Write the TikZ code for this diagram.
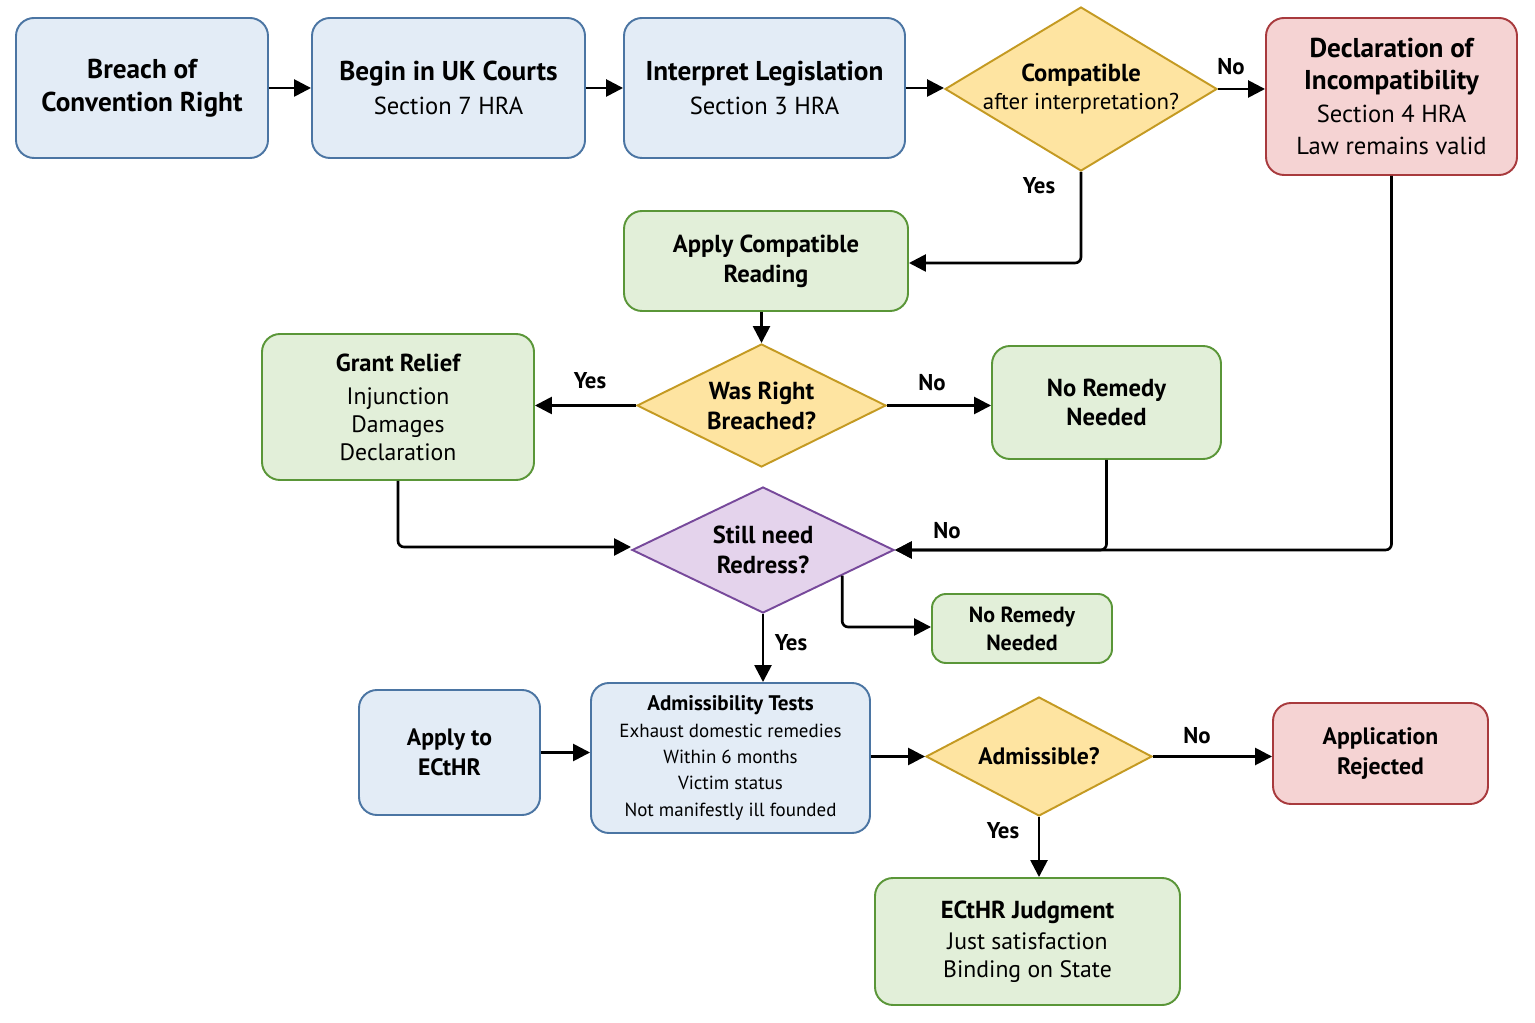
\documentclass[tikz,border=0pt]{standalone}
\usepackage{fontspec}
\setmainfont{PT Sans}
\usetikzlibrary{shapes.geometric,arrows.meta,calc}
\definecolor{bfill}{HTML}{E3ECF6}\definecolor{bdraw}{HTML}{4B75A3}
\definecolor{gfill}{HTML}{E2EFD9}\definecolor{gdraw}{HTML}{5A9638}
\definecolor{rfill}{HTML}{F5D3D3}\definecolor{rdraw}{HTML}{A83A3D}
\definecolor{yfill}{HTML}{FEE4A1}\definecolor{ydraw}{HTML}{C49A22}
\definecolor{pfill}{HTML}{E4D3EC}\definecolor{pdraw}{HTML}{77499B}
% font size macros (size only; baselineskip set by the node font)
\newcommand{\fA}{\fontsize{15.5}{18}\selectfont}
\newcommand{\fB}{\fontsize{14}{17}\selectfont}
\newcommand{\fC}{\fontsize{13.5}{16}\selectfont}
\newcommand{\fD}{\fontsize{10.8}{15}\selectfont}
\newcommand{\skipto}[1]{\fontsize{10}{#1}\selectfont}
\tikzset{
  box/.style={rectangle, rounded corners=0.36cm, line width=1.1pt, align=center, inner sep=0pt},
  bluebox/.style={box, fill=bfill, draw=bdraw},
  greenbox/.style={box, fill=gfill, draw=gdraw},
  redbox/.style={box, fill=rfill, draw=rdraw},
  dia/.style={diamond, line width=1.1pt, align=center, inner sep=0pt},
  ydia/.style={dia, fill=yfill, draw=ydraw},
  pdia/.style={dia, fill=pfill, draw=pdraw},
  arr/.style={-{Triangle[length=0.34cm,width=0.34cm]}, line width=1.5pt, rounded corners=0.12cm},
  lbl/.style={font=\fontsize{13}{15}\selectfont\bfseries, inner sep=0pt}
}
\begin{document}
\begin{tikzpicture}[x=0.02cm,y=-0.02cm]
\useasboundingbox[fill=white] (0,0) rectangle (1535,1023);
% top row
\node[bluebox, minimum width=252*0.02cm, minimum height=140*0.02cm, font=\fontsize{15.5}{18.7}\selectfont\bfseries] (breach) at (142,88) {Breach of\\Convention Right};
\node[bluebox, minimum width=273*0.02cm, minimum height=140*0.02cm, font=\skipto{19.3}] (begin) at (448.5,88) {\fA\bfseries Begin in UK Courts\\\fB Section 7 HRA};
\node[bluebox, minimum width=281*0.02cm, minimum height=140*0.02cm, font=\skipto{19.3}] (interp) at (764.5,88) {\fA\bfseries Interpret Legislation\\\fB Section 3 HRA};
\node[ydia, aspect=1.66, inner sep=-6pt, minimum width=272*0.02cm, minimum height=164*0.02cm, font=\skipto{15.9}] (compat) at (1081,89) {\fB\bfseries Compatible\\\fontsize{13}{16}\selectfont after interpretation?};
\node[redbox, minimum width=251*0.02cm, minimum height=157*0.02cm, font=\skipto{18.5}] (decl) at (1391.5,96.5) {\fA\bfseries Declaration of\\\fA\bfseries Incompatibility\\\fB Section 4 HRA\\\fB Law remains valid};
% second row
\node[greenbox, minimum width=284*0.02cm, minimum height=100*0.02cm, font=\fontsize{14}{17}\selectfont\bfseries] (apply) at (766,261) {Apply Compatible\\Reading};
\node[ydia, aspect=2.02, minimum width=249*0.02cm, minimum height=123*0.02cm, font=\fontsize{14}{17}\selectfont\bfseries] (was) at (761.5,405.5) {Was Right\\Breached?};
\node[greenbox, minimum width=272*0.02cm, minimum height=146*0.02cm, font=\skipto{15.9}] (grant) at (398,407) {\fB\bfseries Grant Relief\\[3pt]\fC Injunction\\\fC Damages\\\fC Declaration};
\node[greenbox, minimum width=229*0.02cm, minimum height=113*0.02cm, font=\fontsize{14}{17}\selectfont\bfseries] (nr1) at (1106.5,402.5) {No Remedy\\Needed};
\node[pdia, aspect=2.08, minimum width=262*0.02cm, minimum height=126*0.02cm, font=\fontsize{14}{17}\selectfont\bfseries] (still) at (763,550) {Still need\\Redress?};
\node[greenbox, rounded corners=0.28cm, minimum width=180*0.02cm, minimum height=69*0.02cm, font=\fontsize{12.5}{15.9}\selectfont\bfseries] (nr2) at (1022,628.5) {No Remedy\\Needed};
% ECtHR row
\node[bluebox, minimum width=181*0.02cm, minimum height=125*0.02cm, font=\fontsize{13.5}{17}\selectfont\bfseries] (applyE) at (449.5,752.5) {Apply to\\ECtHR};
\node[bluebox, minimum width=279*0.02cm, minimum height=150*0.02cm, font=\skipto{15}] (adm) at (730.5,758) {\fontsize{12}{15}\selectfont\bfseries Admissibility Tests\\\fD Exhaust domestic remedies\\\fD Within 6 months\\\fD Victim status\\\fD Not manifestly ill founded};
\node[ydia, aspect=1.9, minimum width=226*0.02cm, minimum height=119*0.02cm, font=\fC\bfseries] (admq) at (1039,756.5) {Admissible?};
\node[redbox, minimum width=215*0.02cm, minimum height=101*0.02cm, font=\fontsize{13.5}{17}\selectfont\bfseries] (rej) at (1380.5,753.5) {Application\\Rejected};
\node[greenbox, minimum width=305*0.02cm, minimum height=127*0.02cm, font=\skipto{15.9}] (judg) at (1027.5,941.5) {\fB\bfseries ECtHR Judgment\\[1.5pt]\fC Just satisfaction\\\fC Binding on State};
% connectors
\draw[arr] (breach) -- (begin);
\draw[arr] (begin) -- (interp);
\draw[arr] (interp.east) -- (interp.east -| compat.west);
\draw[arr] (compat.east) -- (compat.east -| decl.west);
\draw[arr] (compat.south) |- ($(apply.east)+(0,2)$);
\draw[arr] (apply.south -| was.north) -- (was.north);
\draw[arr] (was.west) -- (was.west -| grant.east);
\draw[arr] (was.east) -- (was.east -| nr1.west);
\draw[arr] (grant.south) |- ($(still.west)+(0,-3)$);
\draw[arr] (decl.south) |- (still.east);
\draw[arr] (nr1.south) |- (still.east);
\coordinate (sse) at ($(still.east)!0.4!(still.south)$);
\draw[arr] (sse) |- ($(nr2.west)+(0,-1.5)$);
\draw[arr] (still.south) -- (still.south |- adm.north);
\draw[arr] (applyE.east) -- (applyE.east -| adm.west);
\draw[arr] (admq.west -| adm.east) -- (admq.west);
\draw[arr] (admq.east) -- (admq.east -| rej.west);
\draw[arr] (admq.south) -- (admq.south |- judg.north);
% labels
\node[lbl] (l1) at (1231,67) {No};
\node[lbl] (l2) at (1039,186) {Yes};
\node[lbl] (l3) at (590,381) {Yes};
\node[lbl] (l4) at (932,383) {No};
\node[lbl] (l5) at (947,531) {No};
\node[lbl] (l6) at (791,643) {Yes};
\node[lbl] (l7) at (1197,736) {No};
\node[lbl] (l8) at (1003,831) {Yes};
\end{tikzpicture}
\end{document}
